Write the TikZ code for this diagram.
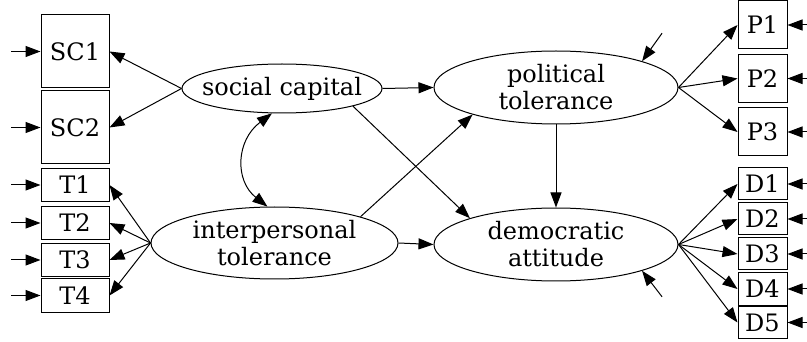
\documentclass[tikz,border=0pt]{standalone}
\usepackage{fontspec}
\setmainfont{DejaVu Serif}
\usetikzlibrary{arrows.meta,shapes.geometric}
\tikzset{
  tip/.tip={Triangle[length=15pt,width=11pt]},
}
\begin{document}
\begin{tikzpicture}[x=1pt,y=-1pt,
  every node/.style={font=\fontsize{24}{27}\selectfont, inner sep=0pt},
  obs/.style={draw, line width=1pt},
  sq/.style={obs, minimum width=68pt},
  rq/.style={obs, minimum width=49pt},
  lat/.style={draw, ellipse, align=center, line width=1pt, inner xsep=-12pt, inner ysep=-3pt},
  arr/.style={-tip, line width=1pt},
  errl/.style={tip-, line width=1pt},
  biarr/.style={tip-tip, line width=1pt},
]
\useasboundingbox (0,0) rectangle (807,342);

% observed, left
\node[sq, minimum height=73pt] (SC1) at (75,51.5) {SC1};
\node[sq, minimum height=73pt] (SC2) at (75,127.5) {SC2};
\node[sq, minimum height=33pt] (T1) at (75,185) {T1};
\node[sq, minimum height=33pt] (T2) at (75,223) {T2};
\node[sq, minimum height=33pt] (T3) at (75,260) {T3};
\node[sq, minimum height=33pt] (T4) at (75,295.5) {T4};

% observed, right
\node[rq, minimum height=48pt] (P1) at (762.5,25) {P1};
\node[rq, minimum height=48pt] (P2) at (762.5,78.5) {P2};
\node[rq, minimum height=48pt] (P3) at (762.5,132) {P3};
\node[rq, minimum height=32pt] (D1) at (762.5,184) {D1};
\node[rq, minimum height=32pt] (D2) at (762.5,219) {D2};
\node[rq, minimum height=32pt] (D3) at (762.5,254) {D3};
\node[rq, minimum height=32pt] (D4) at (762.5,289) {D4};
\node[rq, minimum height=32pt] (D5) at (762.5,322.5) {D5};

% latent
\node[lat, minimum width=200pt, minimum height=49pt] (sc) at (282,88.5) {social capital};
\node[lat, minimum width=247pt, minimum height=72pt] (ip) at (274.5,243) {interpersonal\\tolerance};
\node[lat, minimum width=244pt, minimum height=73pt] (pol) at (556,87.5) {political\\tolerance};
\node[lat, minimum width=244pt, minimum height=73pt] (dem) at (556,244.5) {democratic\\attitude};

% loadings
\draw[arr] (sc.west) -- (SC1.east);
\draw[arr] (sc.west) -- (SC2.east);
\foreach \t in {T1,T2,T3,T4} \draw[arr] (ip.west) -- (\t.east);
\foreach \p in {P1,P2,P3} \draw[arr] (pol.east) -- (\p.west);
\foreach \d in {D1,D2,D3,D4,D5} \draw[arr] (dem.east) -- (\d.west);

% structural paths
\draw[arr] (sc.east) -- (pol.west);
\draw[arr] (sc.-14) -- (dem.163);
\draw[arr] (ip.17) -- (pol.-162);
\draw[arr] (ip.east) -- (dem.west);
\draw[arr] (pol.south) -- (dem.north);
\draw[biarr] (sc.-112) .. controls +(-36,27) and +(-33,-26) .. (ip.101);

% error terms
\foreach \n in {SC1,SC2,T1,T2,T3,T4} \draw[errl] (\n.west) -- ++(-30,0);
\foreach \n in {P1,P2,P3,D1,D2,D3,D4,D5} \draw[errl] (\n.east) -- ++(22,0);
\draw[errl] (pol.17) -- ++(20,-28);
\draw[errl] (dem.-17) -- ++(20,26);
\end{tikzpicture}
\end{document}
